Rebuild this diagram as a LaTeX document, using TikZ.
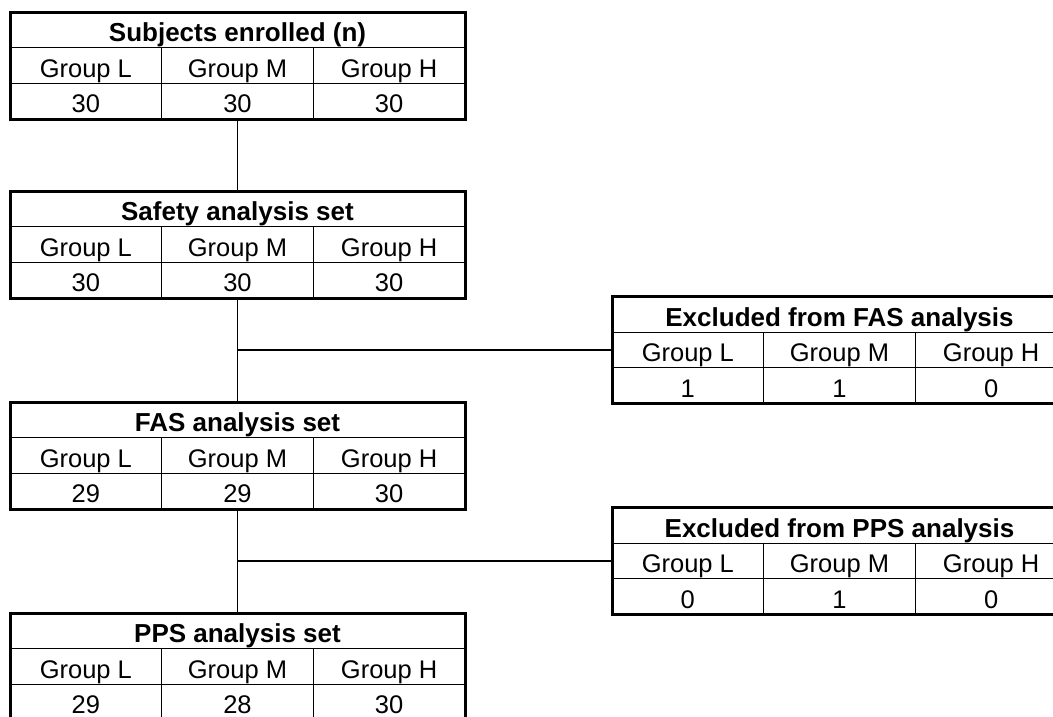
\documentclass[tikz,border=0pt]{standalone}
\usepackage{fontspec}
\setmainfont{Liberation Sans}
\usetikzlibrary{positioning, calc}

\tikzset{
  setbox/.style={draw, line width=3pt, minimum width=455pt, minimum height=107pt, inner sep=0pt, outer sep=0pt},
  headcell/.style={font=\bfseries\fontsize{26}{30}\selectfont, inner sep=0pt, anchor=base},
  groupcell/.style={font=\fontsize{25.5}{30}\selectfont, inner sep=0pt, anchor=base},
  gridrule/.style={line width=1pt},
  link/.style={line width=1.2pt}
}

\newcommand{\filltable}[5]{%
  \draw[gridrule] ($(#1.north west)+(0,35.67)$) -- ($(#1.north east)+(0,35.67)$);
  \draw[gridrule] ($(#1.north west)+(0,71.33)$) -- ($(#1.north east)+(0,71.33)$);
  \draw[gridrule] ($(#1.north west)+(151.67,35.67)$) -- ($(#1.south west)+(151.67,0)$);
  \draw[gridrule] ($(#1.north west)+(303.33,35.67)$) -- ($(#1.south west)+(303.33,0)$);
  \node[headcell] (#1-title) at ($(#1.north)+(0,29.5)$) {#2};
  \node[groupcell] (#1-gl) at ($(#1.north west)+(75.83,65.2)$) {Group L};
  \node[groupcell] (#1-gm) at ($(#1.north)+(0,65.2)$) {Group M};
  \node[groupcell] (#1-gh) at ($(#1.north east)+(-75.83,65.2)$) {Group H};
  \node[groupcell] (#1-nl) at ($(#1.north west)+(75.83,100.8)$) {#3};
  \node[groupcell] (#1-nm) at ($(#1.north)+(0,100.8)$) {#4};
  \node[groupcell] (#1-nh) at ($(#1.north east)+(-75.83,100.8)$) {#5};
}

\begin{document}
\begin{tikzpicture}[x=1pt, y=-1pt]
                    \useasboundingbox[fill=white] (0,0) rectangle (1053,716);
                    \clip (0,0) rectangle (1053,716);
                    \node[setbox, anchor=north west] (enrolled) at (10,12) {};
                    \node[setbox, below=72pt of enrolled] (safety) {};
                    \node[setbox, below=104pt of safety] (fas) {};
                    \node[setbox, below=104pt of fas] (pps) {};
                    \coordinate (j1) at ($(safety.south)!0.5!(fas.north)$);
                    \coordinate (j2) at ($(fas.south)!0.5!(pps.north)$);
                    \node[setbox, right=374.5pt of j1] (exfas) {};
                    \node[setbox, right=374.5pt of j2] (expps) {};
                    \filltable{enrolled}{Subjects enrolled (n)}{30}{30}{30}
                    \filltable{safety}{Safety analysis set}{30}{30}{30}
                    \filltable{fas}{FAS analysis set}{29}{29}{30}
                    \filltable{pps}{PPS analysis set}{29}{28}{30}
                    \filltable{exfas}{Excluded from FAS analysis}{1}{1}{0}
                    \filltable{expps}{Excluded from PPS analysis}{0}{1}{0}
                    \draw[link] (enrolled.south) -- (safety.north);
                    \draw[link] (safety.south) -- (fas.north);
                    \draw[link] (fas.south) -- (pps.north);
                    \draw[link] (j1) -- (exfas.west);
                    \draw[link] (j2) -- (expps.west);
                \end{tikzpicture}
\end{document}
